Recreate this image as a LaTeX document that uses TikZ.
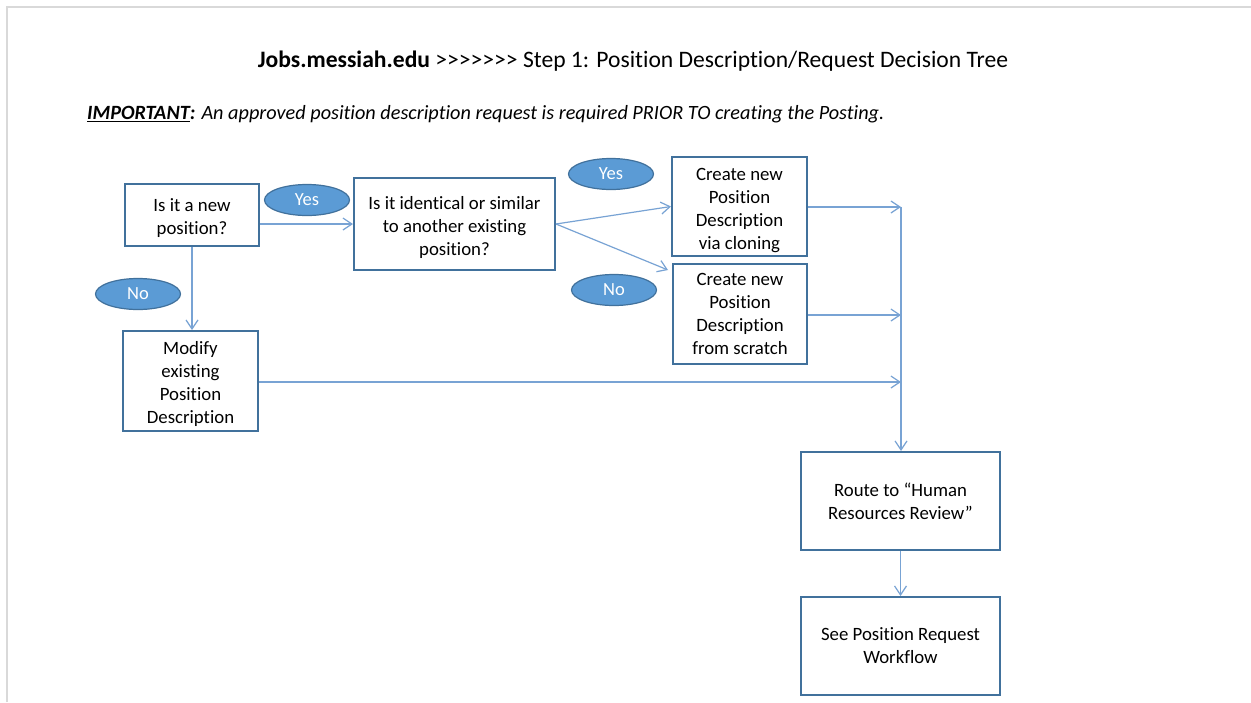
\documentclass[tikz,border=0pt]{standalone}
\usepackage{fontspec}
\setmainfont{Carlito}[RawFeature={-liga}]
\usetikzlibrary{arrows.meta,shapes.geometric}
\definecolor{boxline}{RGB}{65,113,156}
\definecolor{conn}{RGB}{120,163,212}
\definecolor{ellfill}{RGB}{91,155,213}
\definecolor{frame}{RGB}{217,217,217}
\newcommand{\gtsign}{\char"003E\relax}
\newcommand{\lowerstrut}{\rule{0pt}{20pt}}
\tikzset{
  stepbox/.style={draw=boxline, line width=2pt, fill=white, align=center, inner sep=2pt,
    font=\fontsize{18.8}{23}\selectfont, text=black},
  answer/.style={ellipse, draw=boxline, line width=1.2pt, fill=ellfill, text=white,
    minimum width=85pt, minimum height=31pt, inner sep=0pt, font=\fontsize{18.5}{20}\selectfont},
  conn/.style={draw=conn, line width=1.2pt},
  arr/.style={conn, -{Straight Barb[length=9pt,width=12pt]}},
}
\begin{document}
\begin{tikzpicture}[x=1pt,y=-1pt]
\useasboundingbox (0,0) rectangle (1251,702);
\fill[white] (0,0) rectangle (1251,702);
% page frame
\draw[frame, line width=2.5pt] (7,702) -- (7,7) -- (1251,7);
% title
\node[font=\fontsize{23.6}{27}\selectfont, anchor=center] (title) at (633,61)
  {\textbf{Jobs.messiah.edu} \gtsign\gtsign\gtsign\gtsign\gtsign\gtsign\gtsign{} Step 1: Position Description/Request Decision Tree};
\node[font=\fontsize{20.25}{22}\selectfont\itshape, anchor=west, inner sep=0pt] (note) at (87,114)
  {\textbf{\underline{IMPORTANT}:} An approved position description request is required PRIOR TO creating the Posting.};
% boxes
\node[stepbox, minimum width=134pt, minimum height=62pt] (A) at (192,215) {\lowerstrut Is it a new\\position?};
\node[stepbox, minimum width=201pt, minimum height=92pt] (B) at (454.5,224) {\lowerstrut Is it identical or similar\\to another existing\\position?};
\node[stepbox, minimum width=135pt, minimum height=100pt] (C) at (190.5,381) {\lowerstrut Modify\\existing\\Position\\Description};
\node[stepbox, minimum width=135pt, minimum height=99pt] (D) at (739.5,206.5) {\lowerstrut Create new\\Position\\Description\\via cloning};
\node[stepbox, minimum width=134pt, minimum height=100pt] (E) at (740,314) {Create new\\Position\\Description\\from scratch};
\node[stepbox, minimum width=199pt, minimum height=98pt] (F) at (900.5,501) {Route to “Human\\Resources Review”};
\node[stepbox, minimum width=199pt, minimum height=98pt] (G) at (900.5,646) {See Position Request\\Workflow};
% answers
\node[answer] (y1) at (307,200) {Yes};
\node[answer] (n1) at (138,294) {No};
\node[answer] (y2) at (611,174) {Yes};
\node[answer] (n2) at (614,290) {No};
% junction points
\coordinate (j1) at (901,207);
\coordinate (j2) at (901,315);
\coordinate (j3) at (901,382);
% connectors
\draw[arr] (A.east |- B.west) -- (B.west);
\draw[arr] (A.south) -- (A.south |- C.north);
\draw[arr] (B.east) -- (D.west);
\draw[arr] (B.east) -- ([shift={(-4pt,-7pt)}]E.north west);
\draw[arr] (D.east |- j1) -- (j1);
\draw[arr] (E.east |- j2) -- (j2);
\draw[arr] (C.east |- j3) -- (j3);
\draw[arr] (j1) -- (j1 |- F.north);
\draw[arr] (F.south) -- (F.south |- G.north);
\end{tikzpicture}
\end{document}
